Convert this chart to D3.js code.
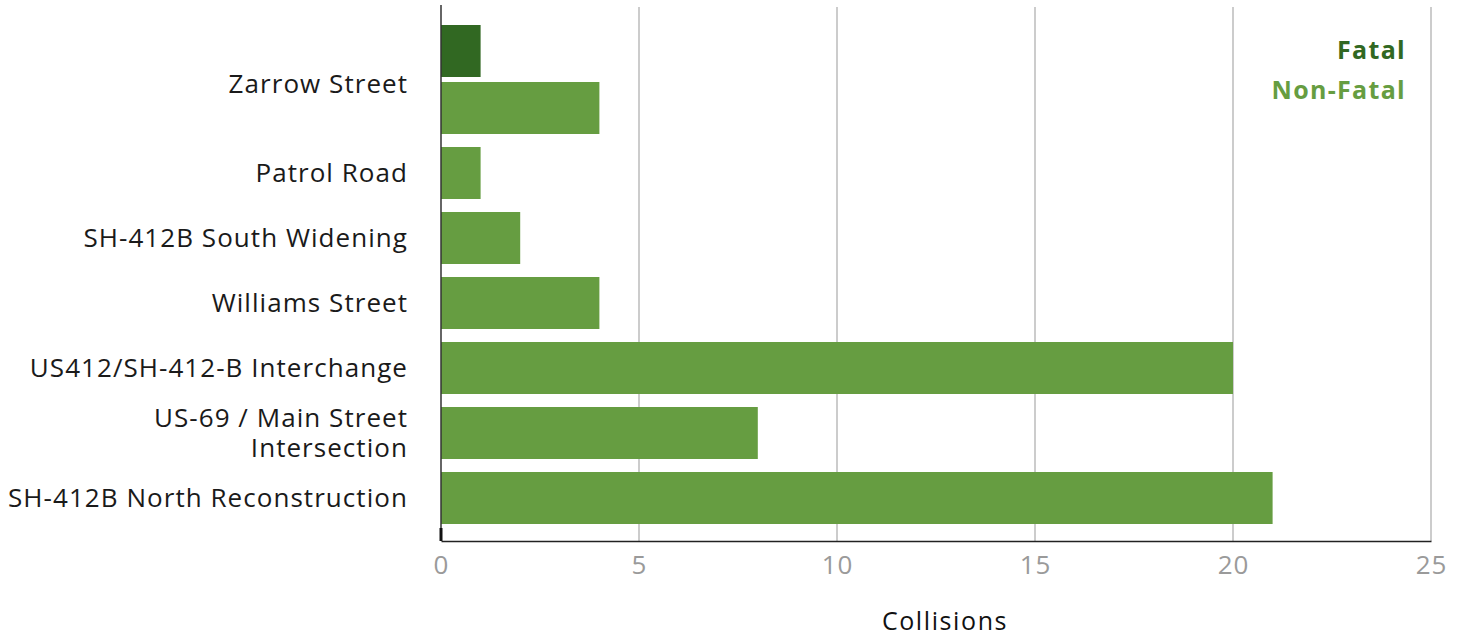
<!DOCTYPE html>
<html>
<head>
<meta charset="utf-8">
<script src="https://cdn.jsdelivr.net/npm/d3@7"></script>
<style>
  body { margin: 0; background: #fff; }
  text { font-family: "Open Sans", sans-serif; }
</style>
</head>
<body>
<div id="container"></div>
<script>
// Données
const categories = ["Zarrow Street", "Patrol Road", "SH-412B South Widening", "Williams Street",
  "US412/SH-412-B Interchange", "US-69 / Main Street|Intersection", "SH-412B North Reconstruction"];
const fatal    = [1, 0, 0, 0, 0, 0, 0];
const nonFatal = [4, 1, 2, 4, 20, 8, 21];
const xTicks   = [0, 5, 10, 15, 20, 25];
const series   = ["Fatal", "Non-Fatal"];

const colors = { "Fatal": "#316822", "Non-Fatal": "#669d41" };

const W = 1460, H = 636;
const marginLeft = 441, marginRight = 29, marginTop = 6, plotBottom = 541;

const svg = d3.select("#container").append("svg")
  .attr("width", W).attr("height", H);

// Lignes : une par série non nulle, regroupées par catégorie
const rows = [];
categories.forEach((c, i) => {
  [fatal[i], nonFatal[i]].forEach((v, k) => {
    if (v > 0) rows.push({ cat: c, ci: i, serie: series[k], value: v });
  });
});

// position en "unités" : barre = 52, écart intra-groupe 5, inter-groupe 13
const barH = 52, innerGap = 5, groupGap = 13;
let pos = 0;
rows.forEach((r, i) => {
  if (i > 0) pos += (rows[i - 1].ci === r.ci ? innerGap : groupGap);
  r.pos = pos;
  pos += barH;
});
const y = d3.scaleLinear().domain([0, pos]).range([25, 524]);

const x = d3.scaleLinear().domain([0, 25]).range([marginLeft, W - marginRight]);

// Grille
svg.append("g").selectAll("line")
  .data(xTicks.filter(d => d > 0))
  .join("line")
  .attr("x1", d => x(d)).attr("x2", d => x(d))
  .attr("y1", marginTop + 1).attr("y2", plotBottom)
  .attr("stroke", "#bbbbbb").attr("stroke-width", 1.5);

// Barres
svg.append("g").selectAll("rect")
  .data(rows)
  .join("rect")
  .attr("x", x(0))
  .attr("y", d => y(d.pos))
  .attr("width", d => x(d.value) - x(0))
  .attr("height", d => y(d.pos + barH) - y(d.pos))
  .attr("fill", d => colors[d.serie]);

// Axe X
const xAxis = svg.append("g")
  .attr("transform", `translate(0,${plotBottom})`)
  .call(d3.axisBottom(x).tickValues(xTicks).tickSize(0).tickPadding(10));
xAxis.select(".domain").attr("stroke", "#222").attr("stroke-width", 1.5);
xAxis.selectAll("text")
  .attr("fill", "#9a9a9a")
  .style("font-size", "26px")
  .style("letter-spacing", "1px")
  .style("font-family", "'Open Sans', sans-serif")
  .attr("dy", "0.9em");

// Axe Y
svg.append("line")
  .attr("x1", x(0)).attr("x2", x(0))
  .attr("y1", marginTop - 1).attr("y2", plotBottom)
  .attr("stroke", "#333").attr("stroke-width", 1.5);
svg.append("line")
  .attr("x1", x(0)).attr("x2", x(0))
  .attr("y1", plotBottom - 13).attr("y2", plotBottom)
  .attr("stroke", "#111").attr("stroke-width", 3);

// Libellés des catégories
const labels = categories.map((c, i) => {
  const rs = rows.filter(r => r.ci === i);
  const mid = d3.mean(rs, r => y(r.pos + barH / 2)) + (rs.length > 1 ? 5 : 1);
  return { lines: c.split("|"), mid };
});
const lab = svg.append("g").selectAll("text")
  .data(labels)
  .join("text")
  .attr("x", 408)
  .attr("text-anchor", "end")
  .attr("fill", "#1a1a1a")
  .style("font-size", "26px")
  .style("letter-spacing", "1.05px");
lab.each(function (d) {
  const n = d.lines.length;
  d3.select(this).selectAll("tspan")
    .data(d.lines)
    .join("tspan")
    .attr("x", 408)
    .attr("y", (l, j) => d.mid + (j - (n - 1) / 2) * 30 + 8)
    .text(l => l);
});

// Légende
svg.append("g").selectAll("text")
  .data(series)
  .join("text")
  .attr("x", 1406)
  .attr("y", (d, i) => 59 + i * 40)
  .attr("text-anchor", "end")
  .attr("fill", d => colors[d])
  .style("font-size", "25px")
  .style("font-weight", "bold")
  .style("letter-spacing", "1.3px")
  .text(d => d);

// Titre de l'axe
svg.append("text")
  .attr("x", 945).attr("y", 630)
  .attr("text-anchor", "middle")
  .attr("fill", "#111")
  .style("font-size", "25px")
  .style("letter-spacing", "1.6px")
  .text("Collisions");
</script>
</body>
</html>
